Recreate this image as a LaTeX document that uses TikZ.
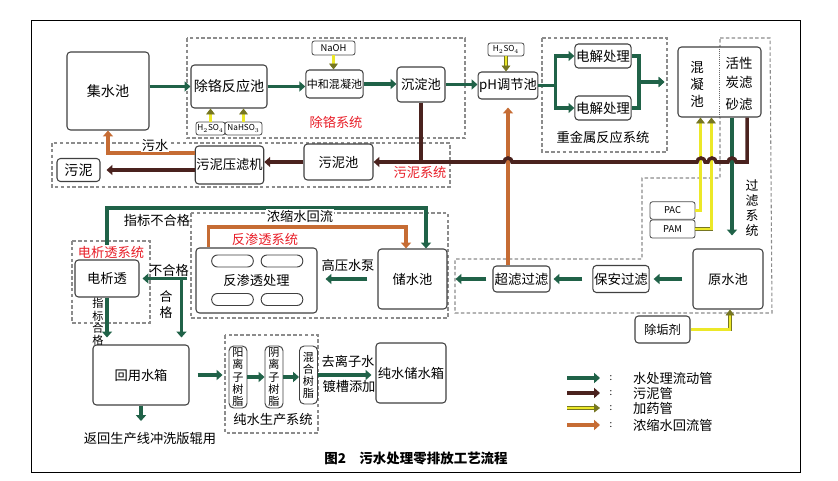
\documentclass[tikz,border=0pt]{standalone}
\usepackage{fontspec}
\setmainfont{Noto Sans CJK SC}
\usepackage{xcolor}
\usepackage{tikz}
\usetikzlibrary{arrows.meta, positioning, calc}

\definecolor{pipegreen}{RGB}{32,98,72}
\definecolor{pipemud}{RGB}{74,34,30}
\definecolor{pipedose}{RGB}{236,232,40}
\definecolor{doseedge}{RGB}{118,118,34}
\definecolor{pipeback}{RGB}{198,108,52}
\definecolor{sysred}{RGB}{232,30,40}

\begin{document}
\begin{tikzpicture}[x=0.03cm, y=-0.03cm, font=\fontsize{11.3}{13.5}\selectfont]
	\tikzset{
		tank/.style={draw=black!75, line width=0.9pt, rounded corners=3pt, fill=white, align=center, inner sep=1pt},
		chem/.style={draw=black!70, line width=0.7pt, rounded corners=2pt, fill=white, inner sep=0pt, font=\fontsize{7}{8}\selectfont},
		resin/.style={draw=black!75, line width=0.8pt, rounded corners=4pt, fill=white, minimum width=0.54cm, inner sep=0pt, align=center, font=\fontsize{9.5}{10.3}\selectfont},
		capsule/.style={draw=black!75, line width=0.8pt, rounded corners=5pt, minimum width=1.25cm, minimum height=0.36cm},
		sysbox/.style={draw=black!45, line width=0.9pt, dash pattern=on 3pt off 2pt},
		syslabel/.style={text=sysred},
		waterpipe/.style={draw=pipegreen, line width=3.3pt, -{Triangle[length=5pt, width=8.5pt]}},
		mudpipe/.style={draw=pipemud, line width=3pt, -{Triangle[length=5pt, width=8.5pt]}},
		dosepipe/.style={draw=doseedge, double=pipedose, double distance=2pt, line width=0.6pt, -{Triangle[length=5pt, width=7.5pt]}},
		refluxpipe/.style={draw=pipeback, line width=3pt, -{Triangle[length=5pt, width=8.5pt]}}
	}
	\useasboundingbox (0,0) rectangle (838,481);
	\draw[line width=0.8pt] (31,20) rectangle (800,472);

	% system borders
	\draw[sysbox] (187,38) rectangle (465,138);
	\draw[sysbox] (52,143) rectangle (450,187);
	\draw[sysbox] (542,38) rectangle (667,152);
	\draw[sysbox] (720,38) -- (770,38) -- (772,313) -- (455,313) -- (455,259) -- (642,259) -- (642,178) -- (720,178) -- cycle;
	\draw[sysbox] (191,213) rectangle (448,318);
	\draw[sysbox] (72,241) rectangle (150,323);
	\draw[sysbox] (225,335) rectangle (318,433);

	\node[syslabel] (lblcr) at (336,122) {除铬系统};
	\node[syslabel] (lblwn) at (420,172) {污泥系统};
	\node (lblzj) at (603,137) {重金属反应系统};
	\node[align=center, font=\fontsize{11}{12.8}\selectfont] (lblgl) at (752,208) {过\\滤\\系\\统};
	\node[syslabel] (lblfs) at (265,239) {反渗透系统};
	\node (lblcs) at (273,419) {纯水生产系统};

	% chromium removal line
	\node[tank, minimum width=2.46cm, minimum height=2.34cm, font=\fontsize{12}{14}\selectfont] (jishui) at (108,91) {集水池};
	\node[tank, minimum width=2.28cm, minimum height=1.29cm, font=\fontsize{12}{14}\selectfont] (gecr) at (229,86.5) {除铬反应池};
	\node[chem, minimum width=0.87cm, minimum height=0.39cm] (hsa) at (210.5,128.5) {H$_2$SO$_4$};
	\node[chem, minimum width=1.11cm, minimum height=0.39cm] (nahso) at (243.5,128.5) {NaHSO$_3$};
	\node[tank, minimum width=1.65cm, minimum height=0.84cm, font=\fontsize{9.4}{11}\selectfont] (zhonghe) at (334.5,84) {中和混凝池};
	\node[chem, minimum width=1.29cm, minimum height=0.42cm, font=\fontsize{8}{9}\selectfont] (naoh) at (333.5,48) {NaOH};
	\node[tank, minimum width=1.44cm, minimum height=1.05cm] (chendian) at (421,84.5) {沉淀池};
	\node[tank, minimum width=1.71cm, minimum height=0.81cm] (phtank) at (508,85.5) {pH调节池};
	\node[chem, minimum width=1.08cm, minimum height=0.39cm] (hsb) at (506,49.5) {H$_2$SO$_4$};

	% heavy metal
	\node[tank, minimum width=1.68cm, minimum height=0.72cm, font=\fontsize{11.5}{13}\selectfont] (djA) at (603,56) {电解处理};
	\node[tank, minimum width=1.68cm, minimum height=0.72cm, font=\fontsize{11.5}{13}\selectfont] (djB) at (603,108) {电解处理};

	% filtering
	\node[tank, minimum width=2.49cm, minimum height=2.1cm] (hunning) at (719.5,82) {};
	\draw[black!60, densely dotted, line width=0.8pt] (hunning.north) -- (hunning.south);
	\node[align=center, font=\fontsize{11.5}{14.5}\selectfont] (hnc) at (697,84) {混\\凝\\池};
	\node[align=center, font=\fontsize{11.5}{16}\selectfont] (hxt) at (739,84) {活性\\炭滤\\[3pt]砂滤};
	\node[chem, minimum width=1.35cm, minimum height=0.52cm, font=\fontsize{8}{9}\selectfont] (pac) at (672.5,210.5) {PAC};
	\node[chem, minimum width=1.35cm, minimum height=0.54cm, font=\fontsize{8}{9}\selectfont, below=0pt of pac] (pam) {PAM};
	\node[tank, minimum width=2.1cm, minimum height=1.8cm] (yuanshui) at (728,279) {原水池};
	\node[tank, minimum width=1.65cm, minimum height=0.81cm, font=\fontsize{10.5}{12}\selectfont] (chugou) at (662.5,329.5) {除垢剂};
	\node[tank, minimum width=1.68cm, minimum height=0.81cm, font=\fontsize{11.5}{13}\selectfont] (baoan) at (621,279) {保安过滤};
	\node[tank, minimum width=1.71cm, minimum height=0.78cm, font=\fontsize{11.5}{13}\selectfont] (chaolv) at (521.5,279) {超滤过滤};

	% reverse osmosis
	\node[tank, minimum width=2.07cm, minimum height=1.8cm] (chushui) at (412.5,279) {储水池};
	\node[tank, minimum width=3.63cm, minimum height=1.95cm] (fanshen) at (256.5,280.5) {反渗透处理};
	\node[capsule] (moA) at (232.5,261) {};
	\node[capsule] (moB) at (282,261) {};
	\node[capsule] (moC) at (232.5,299.5) {};
	\node[capsule] (moD) at (282,299.5) {};
	\node[tank, minimum width=1.92cm, minimum height=1.11cm] (dianxi) at (107,278.5) {电析透};

	% reuse and pure water
	\node[tank, minimum width=2.88cm, minimum height=1.8cm] (huiyong) at (141,375) {回用水箱};
	\node[resin, minimum height=1.86cm] (yang) at (238,377) {阳\\离\\子\\树\\脂};
	\node[resin, minimum height=1.86cm] (yin) at (274,377) {阴\\离\\子\\树\\脂};
	\node[resin, minimum height=1.74cm] (hunhe) at (308.5,375) {混\\合\\树\\脂};
	\node[tank, minimum width=2.1cm, minimum height=1.8cm] (chunshui) at (411,373) {纯水储水箱};
	\node (fanhui) at (150,438) {返回生产线冲洗版辊用};

	% sludge
	\node[tank, minimum width=2.07cm, minimum height=1.08cm] (wuni) at (338.5,162) {污泥池};
	\node[tank, minimum width=2.01cm, minimum height=1.14cm] (yalv) at (229.5,165) {污泥压滤机};
	\node[tank, minimum width=1.29cm, minimum height=0.69cm, font=\fontsize{12}{14}\selectfont] (nibing) at (78.5,170) {污泥};

	% water flow
	\draw[waterpipe] (jishui.east |- gecr.west) -- (gecr.west);
	\draw[waterpipe] (gecr.east) -- (gecr.east -| zhonghe.west);
	\draw[waterpipe] (zhonghe.east) -- (zhonghe.east -| chendian.west);
	\draw[waterpipe] (chendian.east) -- (chendian.east -| phtank.west);
	\draw[waterpipe] (phtank.east) -- ++(17,0) |- (djA.west);
	\draw[waterpipe] (phtank.east) -- ++(17,0) |- (djB.west);
	\draw[waterpipe, shorten >=0.39cm] (djA.east) -- ++(7,0) |- (hunning.west);
	\draw[waterpipe, shorten >=0.39cm] (djB.east) -- ++(7,0) |- (hunning.west);
	\coordinate (filterout) at ($(hunning.south)+(12.5,0)$);
	\draw[waterpipe, shorten >=0.39cm] (filterout) -- (filterout |- yuanshui.north);
	\draw[waterpipe, shorten <=0.3cm, shorten >=0.12cm] (yuanshui.west) -- (yuanshui.west -| baoan.east);
	\draw[waterpipe, shorten <=0.3cm, shorten >=0.09cm] (baoan.west) -- (baoan.west -| chaolv.east);
	\draw[waterpipe, shorten <=0.18cm, shorten >=0.24cm] (chaolv.west) -- (chaolv.west -| chushui.east);
	\draw[waterpipe, shorten <=0.3cm, shorten >=0.24cm] (chushui.west) -- (chushui.west -| fanshen.east);
	\node (hpump) at (348,265) {高压水泵};
	\draw[waterpipe, shorten <=0.24cm, shorten >=0.09cm] (fanshen.west |- dianxi.east) -- (dianxi.east);
	\node (bad) at (169,270) {不合格};
	\coordinate (okjoin) at ($(fanshen.west |- dianxi.east)+(-14,0)$);
	\draw[waterpipe, shorten >=0.21cm] (okjoin) -- (okjoin |- huiyong.north);
	\node[align=center, font=\fontsize{11}{13.6}\selectfont] (good) at (166,305) {合\\格};
	\draw[waterpipe, shorten >=0.21cm] (dianxi.south) -- (dianxi.south |- huiyong.north);
	\node[align=center, font=\fontsize{9.5}{10.4}\selectfont] (idxgood) at (98,322) {指\\标\\合\\格};
	\coordinate (topret) at (426,208);
	\draw[waterpipe] (dianxi.north) |- (topret) -- (topret |- chushui.north);
	\node (idxbad) at (157,220) {指标不合格};
	\node[syslabel, fill=white, inner sep=0.5pt] (lbldx) at (111,252) {电析透系统};
	\draw[waterpipe, shorten <=0.24cm, shorten >=0.18cm] (huiyong.east) -- (huiyong.east -| yang.west);
	\draw[waterpipe] (yang.east) -- (yin.west);
	\draw[waterpipe] (yin.east) -- (yin.east -| hunhe.west);
	\draw[waterpipe, shorten >=0.12cm] (hunhe.east) -- (hunhe.east -| chunshui.west);
	\node (diwater) at (348,361) {去离子水};
	\node (plating) at (349,386) {镀槽添加};
	\draw[waterpipe, shorten >=0.2cm] (huiyong.south) -- (huiyong.south |- fanhui.north);

	% concentrate reflux
	\coordinate (backtop) at (406,227);
	\draw[refluxpipe] ($(fanshen.north west)+(13,0)$) |- (backtop) -- (backtop |- chushui.north);
	\node[fill=white, inner sep=0.5pt] (conc) at (300,216) {浓缩水回流};
	\draw[refluxpipe, shorten >=0.24cm] (chaolv.north -| phtank.south) -- (phtank.south);

	% dosing
	\draw[dosepipe] (hsa.north) -- (hsa.north |- gecr.south);
	\draw[dosepipe] (nahso.north) -- (nahso.north |- gecr.south);
	\draw[dosepipe] (naoh.south) -- (naoh.south |- zhonghe.north);
	\draw[dosepipe] (hsb.south) -- (hsb.south |- phtank.north);
	\coordinate (pacin) at ($(hunning.south west)+(23,0)$);
	\coordinate (pamin) at ($(hunning.south west)+(34,0)$);
	\draw[dosepipe] (pac.east) -| (pacin);
	\draw[dosepipe] (pam.east) -| (pamin);
	\draw[dosepipe] (chugou.east) -| ($(yuanshui.south)+(2,0)$);

	% sludge lines
	\draw[mudpipe, -] (chendian.south) -- (chendian.south |- wuni.east);
	\coordinate (mudout) at ($(hunning.south)+(27.5,0)$);
	\draw[mudpipe] (mudout) -- (mudout |- wuni.east) -- (736,162) arc[start angle=0, end angle=180, radius=3.4pt]
		-- (716,162) arc[start angle=0, end angle=180, radius=3.4pt]
		-- (705,162) arc[start angle=0, end angle=180, radius=3.4pt]
		-- (512,162) arc[start angle=0, end angle=180, radius=3.4pt] -- (wuni.east);
	\draw[mudpipe] (wuni.west) -- (wuni.west -| yalv.east);
	\draw[mudpipe, shorten >=0.18cm] (yalv.west |- nibing.east) -- (nibing.east);
	\coordinate (wsout) at ($(yalv.west)+(0,-12)$);
	\draw[refluxpipe] (wsout) -| (jishui.south);
	\node[fill=white, inner sep=0.5pt] (wastew) at (155,145) {污水};

	% legend
	\foreach \y/\sty/\txt [count=\i] in {378/waterpipe/水处理流动管, 393/mudpipe/污泥管, 408/dosepipe/加药管, 425/refluxpipe/浓缩水回流管}{
		\node[anchor=west] (leg\i) at (629,\y) {\txt};
		\node[font=\fontsize{8}{9}\selectfont] (col\i) at (611,\y) {:};
		\draw[\sty] ($(leg\i.west)+(-62,0)$) -- ($(leg\i.west)+(-29,0)$);
	}

	\node[font=\bfseries\fontsize{11.5}{13}\selectfont] (caption) at (416,458) {图2\quad 污水处理零排放工艺流程};
\end{tikzpicture}
\end{document}
